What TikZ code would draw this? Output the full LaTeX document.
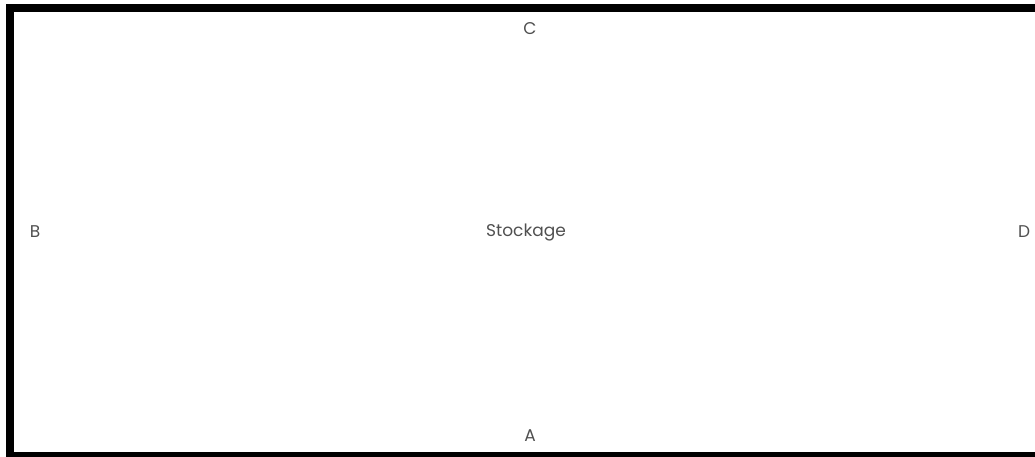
\documentclass[tikz,border=0pt]{standalone}
\usepackage{fontspec}
\setmainfont{Poppins}
\definecolor{tcol}{RGB}{80,80,80}
\tikzset{every picture/.style={x=1pt,y=-1pt}}
\tikzset{lbl/.style={text=tcol,inner sep=0pt,font=\fontsize{17}{20}\selectfont}}
\tikzset{frame/.style={line width=8pt,black}}

\begin{document}
\begin{tikzpicture}
\useasboundingbox (0,0) rectangle (1035,457);

\coordinate (tr) at (1045,8);
\coordinate (tl) at (10,8);
\coordinate (bl) at (10,456);
\coordinate (br) at (1045,456);
\draw [frame] (tr) -- (tl) -- (bl) -- (br);

\node [lbl] (stock) at (526,233) {Stockage};
\node [lbl] (c) at (530,29) {C};
\node [lbl] (a) at (530,436) {A};
\node [lbl] (b) at (35,232) {B};
\node [lbl] (d) at (1024,232) {D};
\end{tikzpicture}
\end{document}
